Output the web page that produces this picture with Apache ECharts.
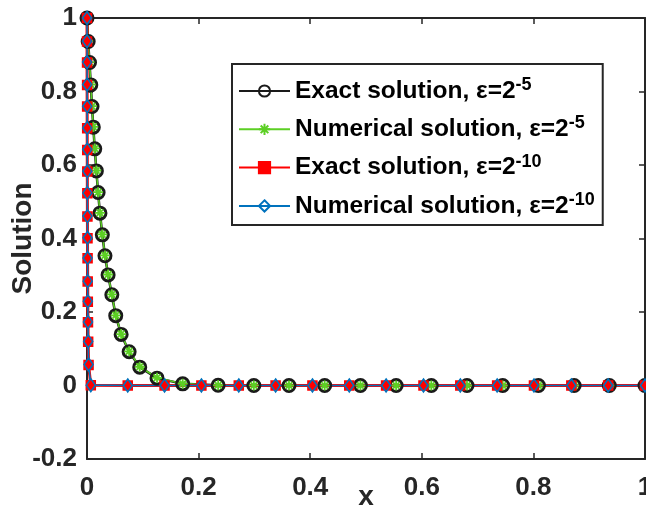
<!DOCTYPE html>
<html><head><meta charset="utf-8">
<script src="https://cdn.jsdelivr.net/npm/echarts@6/dist/echarts.min.js"></script>
<style>html,body{margin:0;padding:0;background:#fff}#c{width:646px;height:508px}</style>
</head><body><div id="c"></div>
<script>
// ---- data ----
const xEps5 = [0, 0.0021, 0.0045, 0.0068, 0.0090, 0.0113, 0.0139, 0.0168, 0.0199, 0.0232, 0.0275, 0.0322, 0.0378, 0.0445, 0.0515, 0.0612, 0.0755, 0.0945, 0.1255, 0.1715,
  0.235, 0.299, 0.362, 0.426, 0.490, 0.554, 0.617, 0.681, 0.745, 0.809, 0.873, 0.936, 1.0];
const exactEps5 = [1, 0.936, 0.879, 0.818, 0.759, 0.703, 0.644, 0.584, 0.525, 0.469, 0.410, 0.353, 0.301, 0.247, 0.190, 0.139, 0.092, 0.050, 0.020, 0.0045,
  0.0006, 0.0001, 0, 0, 0, 0, 0, 0, 0, 0, 0, 0, 0];
const numEps5 = [1, 0.937, 0.880, 0.819, 0.760, 0.704, 0.645, 0.585, 0.526, 0.470, 0.411, 0.354, 0.302, 0.248, 0.191, 0.140, 0.093, 0.051, 0.021, 0.005,
  0.0007, 0.0001, 0, 0, 0, 0, 0, 0, 0, 0, 0, 0, 0];
const xEps10 = [0, 0.00007, 0.00013, 0.0002, 0.00027, 0.00035, 0.00043, 0.00053, 0.00063, 0.00076, 0.00089, 0.00104, 0.00123, 0.00144, 0.00172, 0.00208, 0.0028, 0.0068,
  0.073, 0.139, 0.205, 0.272, 0.338, 0.404, 0.470, 0.536, 0.603, 0.669, 0.735, 0.801, 0.868, 0.934, 1.0];
const exactEps10 = [1, 0.936, 0.879, 0.818, 0.759, 0.700, 0.641, 0.582, 0.523, 0.460, 0.401, 0.346, 0.283, 0.228, 0.172, 0.119, 0.056, 0.001,
  0, 0, 0, 0, 0, 0, 0, 0, 0, 0, 0, 0, 0, 0, 0];
const numEps10 = [1, 0.937, 0.880, 0.819, 0.760, 0.701, 0.642, 0.583, 0.524, 0.461, 0.402, 0.347, 0.284, 0.229, 0.173, 0.120, 0.057, 0.001,
  0, 0, 0, 0, 0, 0, 0, 0, 0, 0, 0, 0, 0, 0, 0];
const seriesNames = ['Exact solution, ε=2^-5', 'Numerical solution, ε=2^-5', 'Exact solution, ε=2^-10', 'Numerical solution, ε=2^-10'];
const xTickLabels = ['0', '0.2', '0.4', '0.6', '0.8', '1'];
const yTickLabels = ['-0.2', '0', '0.2', '0.4', '0.6', '0.8', '1'];
const xAxisTitle = 'x';
const yAxisTitle = 'Solution';

// ---- chart ----
const AX = '#262626';
const FONT = '"Liberation Sans", Arial, Helvetica, sans-serif';
const pairs = (xs, ys) => xs.map((x, i) => [x, ys[i]]);
const xFmt = v => xTickLabels[Math.round(v / 0.2)] ?? '';
const yFmt = v => yTickLabels[Math.round((v + 0.2) / 0.2)] ?? '';
const tickLabel = { color: AX, fontFamily: FONT, fontWeight: 'bold', fontSize: 26 };
const axLine = { show: true, onZero: false, lineStyle: { color: AX, width: 2 } };
const axTick = { show: true, inside: true, length: 6, lineStyle: { color: AX, width: 1.5 } };

const chart = echarts.init(document.getElementById('c'), null, { renderer: 'canvas' });
const star = 'path://M5 0L5 10M0 5L10 5M1.6 1.6L8.4 8.4M1.6 8.4L8.4 1.6';

chart.setOption({
  animation: false,
  backgroundColor: '#fff',
  grid: { left: 87, right: 1, top: 18, bottom: 49, containLabel: false, outerBoundsMode: 'none' },
  xAxis: [
    { type: 'value', min: 0, max: 1, interval: 0.2, position: 'bottom',
      axisLine: axLine, axisTick: axTick, splitLine: { show: false },
      axisLabel: Object.assign({ margin: 16, formatter: xFmt }, tickLabel),
      name: xAxisTitle, nameLocation: 'middle', nameGap: 24, nameMoveOverlap: false,
      nameTextStyle: { color: AX, fontFamily: FONT, fontWeight: 'bold', fontSize: 28 } },
    { type: 'value', min: 0, max: 1, interval: 0.2, position: 'top',
      axisLine: axLine, axisTick: axTick, splitLine: { show: false }, axisLabel: { show: false } }
  ],
  yAxis: [
    { type: 'value', min: -0.2, max: 1, interval: 0.2, position: 'left',
      axisLine: axLine, axisTick: axTick, splitLine: { show: false },
      axisLabel: Object.assign({ margin: 10, formatter: yFmt, padding: [4, 0, 0, 0] }, tickLabel),
      name: yAxisTitle, nameLocation: 'middle', nameGap: 50, nameRotate: 90, nameMoveOverlap: false,
      nameTextStyle: { color: AX, fontFamily: FONT, fontWeight: 'bold', fontSize: 28 } },
    { type: 'value', min: -0.2, max: 1, interval: 0.2, position: 'right',
      axisLine: axLine, axisTick: axTick, splitLine: { show: false }, axisLabel: { show: false } }
  ],
  legend: {
    orient: 'vertical', left: 232, top: 64,
    padding: [12, 8, 4, 6],
    itemWidth: 51, itemHeight: 14, itemGap: 8.3,
    borderColor: AX, borderWidth: 2, backgroundColor: '#fff',
    selectedMode: false,
    data: seriesNames,
    formatter: n => n.replace(/\^(\S+)$/, '{s|$1}'),
    textStyle: {
      color: '#000', fontFamily: FONT, fontWeight: 'bold', fontSize: 24.5, lineHeight: 30,
      rich: { s: { color: '#000', fontFamily: FONT, fontWeight: 'bold', fontSize: 18, lineHeight: 16, verticalAlign: 'top' } }
    }
  },
  series: [
    { name: seriesNames[0], type: 'line', data: pairs(xEps5, exactEps5), clip: false, silent: true,
      symbol: 'circle', symbolSize: 12,
      lineStyle: { color: '#1a1a1a', width: 2.5 },
      itemStyle: { color: 'none', borderColor: '#1a1a1a', borderWidth: 3 } },
    { name: seriesNames[1], type: 'line', data: pairs(xEps5, numEps5), clip: false, silent: true,
      symbol: star, symbolSize: 10,
      lineStyle: { color: '#5ccf24', width: 1.6 },
      itemStyle: { color: 'none', borderColor: '#5ccf24', borderWidth: 1.8 } },
    { name: seriesNames[2], type: 'line', data: pairs(xEps10, exactEps10), clip: false, silent: true,
      symbol: 'rect', symbolSize: 9,
      lineStyle: { color: '#ff0000', width: 3 },
      itemStyle: { color: '#ff0000', borderColor: '#ff0000', borderWidth: 1.5 } },
    { name: seriesNames[3], type: 'line', data: pairs(xEps10, numEps10), clip: false, silent: true,
      symbol: 'diamond', symbolSize: [9, 13],
      lineStyle: { color: '#0072bd', width: 1.6 },
      itemStyle: { color: 'none', borderColor: '#0072bd', borderWidth: 1.6 } }
  ]
});
</script></body></html>
